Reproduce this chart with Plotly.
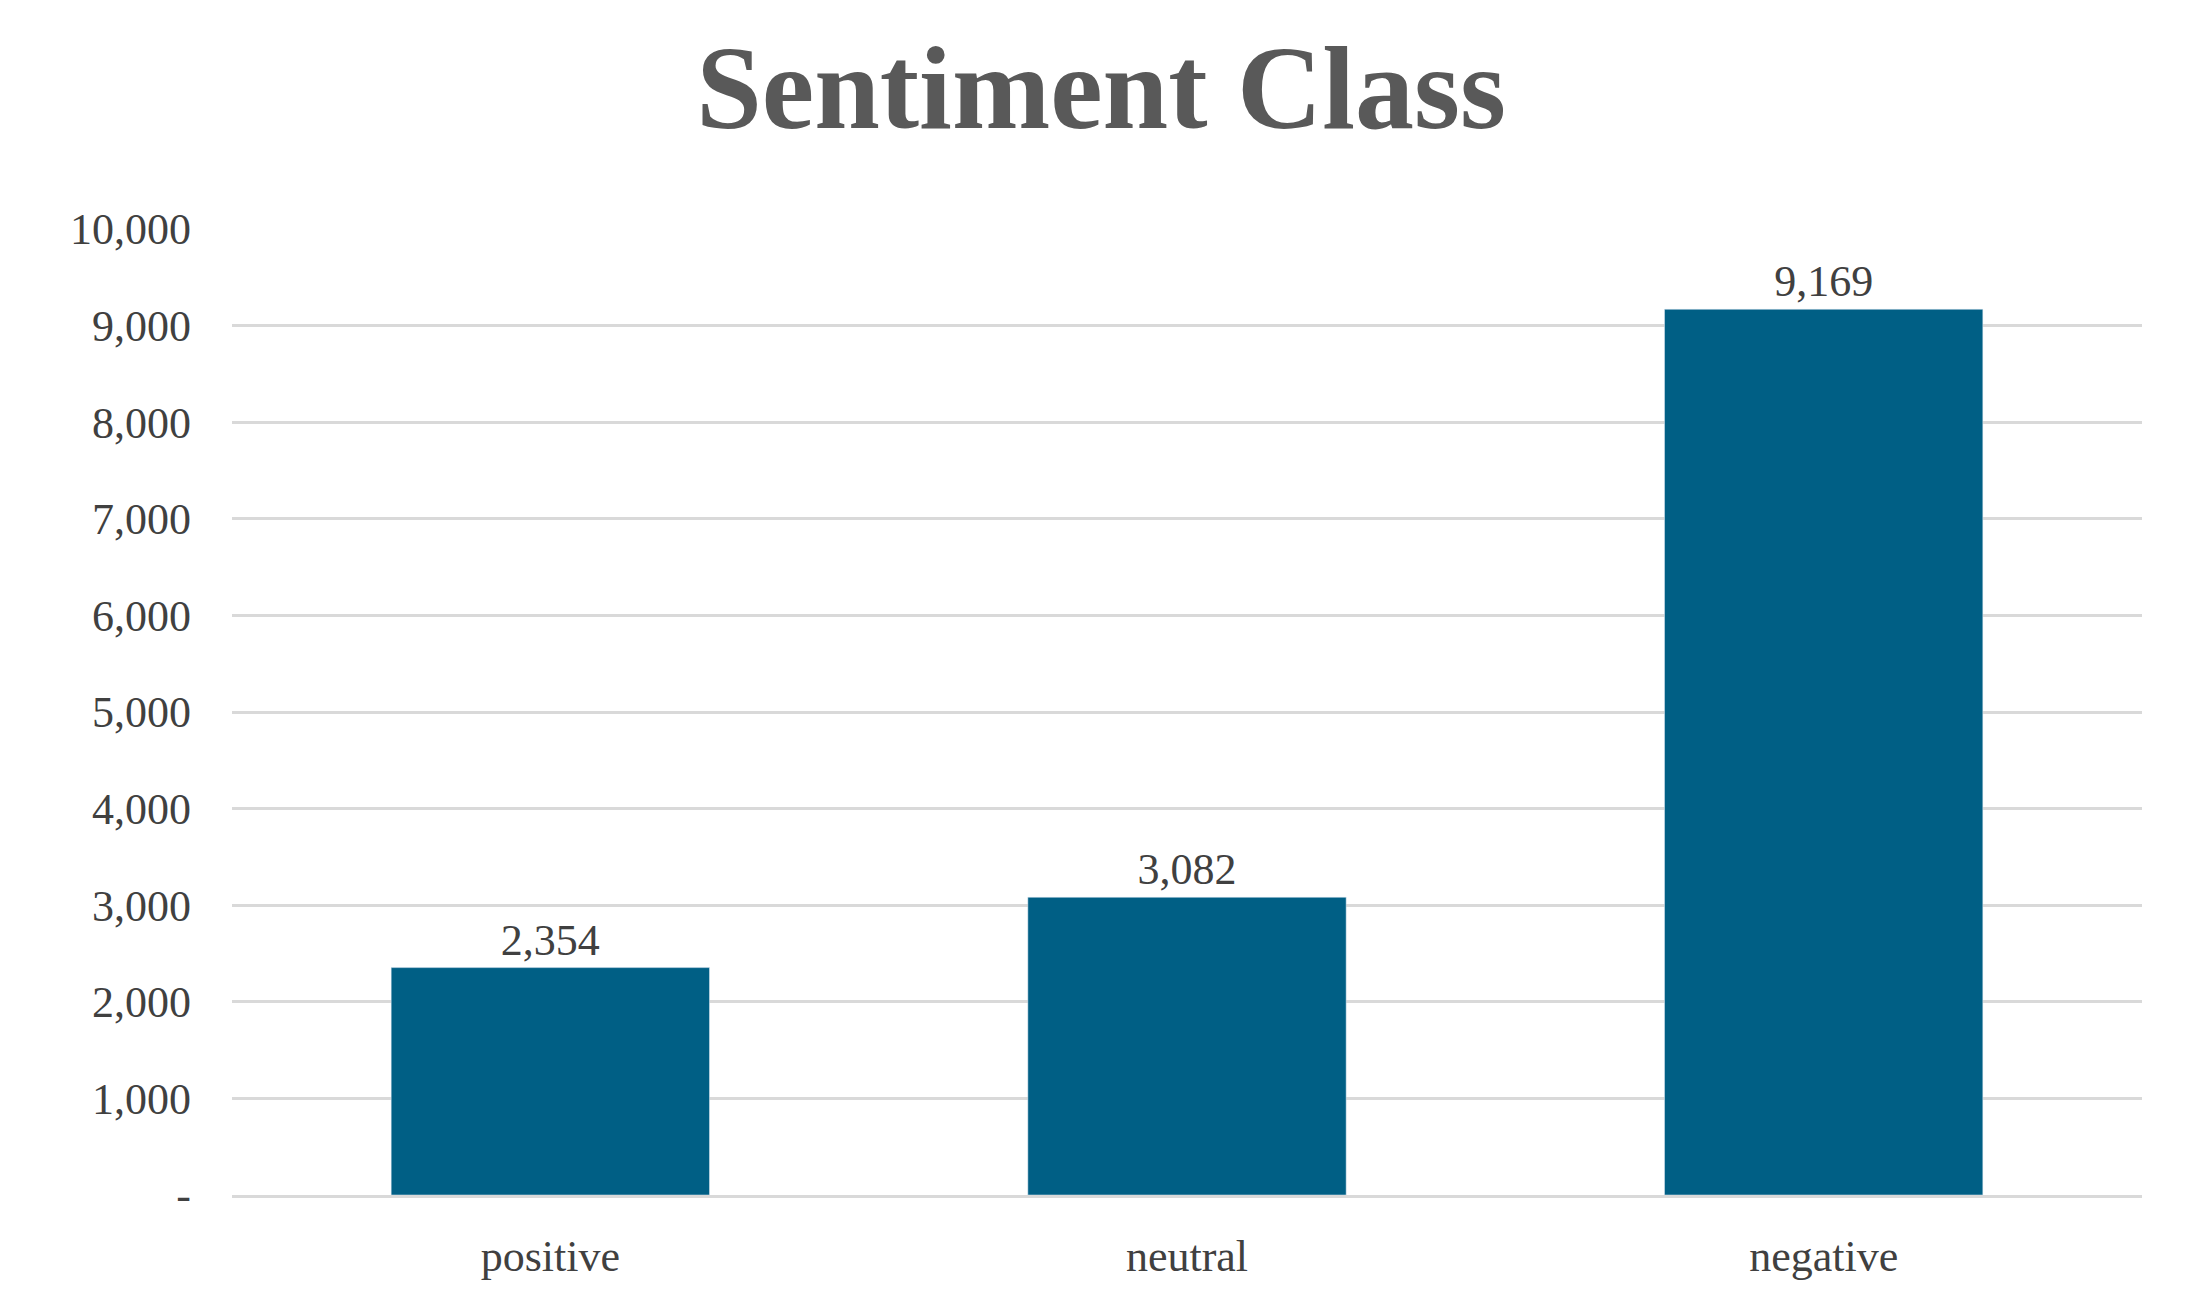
import plotly.graph_objects as go

categories = ["positive", "neutral", "negative"]
values = [2354, 3082, 9169]
tick_vals = [0, 1000, 2000, 3000, 4000, 5000, 6000, 7000, 8000, 9000, 10000]
tick_text = ["-", "1,000", "2,000", "3,000", "4,000", "5,000", "6,000", "7,000", "8,000", "9,000", "10,000"]

font = "Liberation Serif, Times New Roman, serif"
fig = go.Figure(go.Bar(
    x=categories, y=values, width=0.5, marker_color="#005F85",
    text=[f"{v:,}" for v in values], textposition="outside",
    textfont=dict(family=font, size=44, color="#404040"), cliponaxis=False,
))
fig.update_layout(
    width=2186, height=1311, paper_bgcolor="white", plot_bgcolor="white",
    margin=dict(l=224, r=52, t=221, b=124),
    title=dict(text="<b>Sentiment Class</b>", x=0.5, xanchor="center", y=0.94, yanchor="middle",
               font=dict(family=font, size=118, color="#595959")),
    showlegend=False,
)
fig.update_yaxes(range=[0, 10000], tickvals=tick_vals, ticktext=tick_text,
                 showgrid=True, gridcolor="#D9D9D9", gridwidth=3, zeroline=False,
                 tickfont=dict(family=font, size=44, color="#404040"), ticks="", ticklabelstandoff=40)
fig.update_xaxes(showline=True, linecolor="#D9D9D9", linewidth=3,
                 tickfont=dict(family=font, size=44, color="#404040"), ticks="", ticklabelstandoff=20)
fig.write_html("out.html")
